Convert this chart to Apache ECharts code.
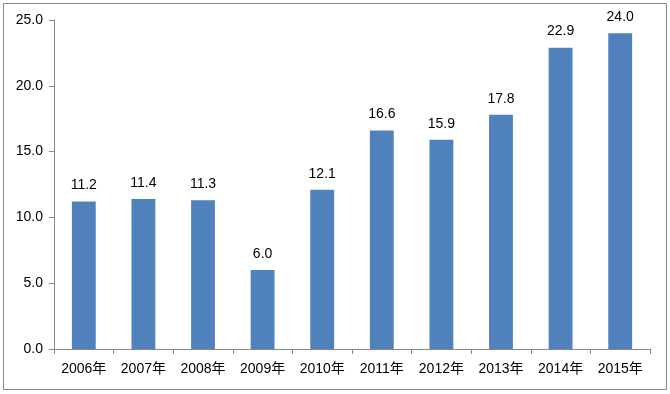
<!DOCTYPE html>
<html><head><meta charset="utf-8">
<script src="https://cdn.jsdelivr.net/npm/echarts@6/dist/echarts.min.js"></script>
<style>html,body{margin:0;padding:0;background:#fff}#c{width:670px;height:394px}</style>
</head><body><div id="c"></div>
<script>
const categories = ['2006年','2007年','2008年','2009年','2010年','2011年','2012年','2013年','2014年','2015年'];
const values = [11.2, 11.4, 11.3, 6.0, 12.1, 16.6, 15.9, 17.8, 22.9, 24.0];
const yTicks = [0, 5, 10, 15, 20, 25];

const chart = echarts.init(document.getElementById('c'), null, {renderer:'canvas'});
const font = "'Liberation Sans', 'Noto Sans CJK SC', sans-serif";
chart.setOption({
  animation:false,
  graphic:[{type:'rect', shape:{x:3.5,y:3.5,width:663,height:386}, style:{fill:'none', stroke:'#888', lineWidth:1}}],
  grid:{left:54, right:20, top:20, bottom:45, containLabel:false},
  xAxis:{type:'category', data:categories,
    axisLine:{lineStyle:{color:'#888'}},
    axisTick:{show:true, length:5, lineStyle:{color:'#888'}, alignWithLabel:false},
    axisLabel:{color:'#000', fontSize:14, fontFamily:font, margin:13}},
  yAxis:{type:'value', min:yTicks[0], max:yTicks[yTicks.length-1], interval:5,
    axisLine:{show:true, lineStyle:{color:'#888'}},
    axisTick:{show:true, length:5, lineStyle:{color:'#888'}},
    splitLine:{show:false},
    axisLabel:{color:'#000', fontSize:14, fontFamily:font, margin:11, formatter:v=>v.toFixed(1)}},
  series:[{type:'bar', data:values, barWidth:'40%', itemStyle:{color:'#4F81BD'},
    label:{show:true, position:'top', distance:9, color:'#000', fontSize:14, fontFamily:font, formatter:p=>p.value.toFixed(1)}}]
});
</script></body></html>
